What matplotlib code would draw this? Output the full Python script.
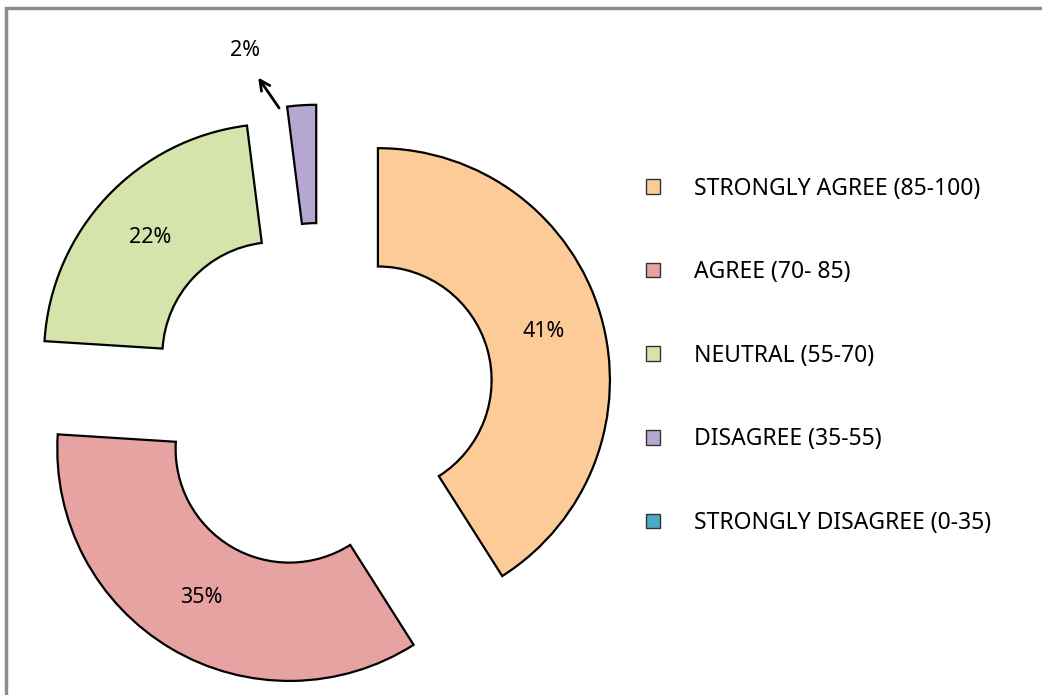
import numpy as np
import matplotlib.pyplot as plt
from matplotlib.patches import Patch, Rectangle

categories = ['STRONGLY AGREE (85-100)', 'AGREE (70- 85)', 'NEUTRAL (55-70)',
              'DISAGREE (35-55)', 'STRONGLY DISAGREE (0-35)']
shares = [41, 35, 22, 2, 0]
colors = ['#FDCB97', '#E6A3A2', '#D4E4AA', '#B6A6D2', '#4BACC6']

plt.rcParams['font.family'] = ['Noto Sans', 'DejaVu Sans']

W, H = 1042, 695
fig = plt.figure(figsize=(W / 100, H / 100), dpi=100)
ax = fig.add_axes([0, 0, 1, 1])

# pie centre and radius in pixels, used to set the view
cx, cy, rpx = 320, 397, 232


def fmt(p):
    return f'{p:.0f}%' if p >= 5 else ''


wedges, texts, autotexts = ax.pie(
    shares, explode=[0.26] * len(shares), colors=colors, startangle=90,
    counterclock=False, radius=1, pctdistance=0.745, autopct=fmt,
    wedgeprops=dict(width=0.51, edgecolor='black', linewidth=1.6),
    textprops=dict(fontsize=15.5, color='black'), frame=True)
ax.set_xlim(-cx / rpx, (W - cx) / rpx)
ax.set_ylim(-(H - cy) / rpx, cy / rpx)
ax.set_aspect('auto')
ax.axis('off')

# empty categories draw nothing
for w, s in zip(wedges, shares):
    if s == 0:
        w.set_visible(False)

# small slice gets an outside label with arrow
w = wedges[3]
mid = np.deg2rad((w.theta1 + w.theta2) / 2)
ox = w.center[0] + np.cos(mid)
oy = w.center[1] + np.sin(mid)
tail = (ox - 21 / rpx, oy - 5 / rpx)
head = (ox - 45 / rpx, oy + 30 / rpx)
ax.annotate('', xy=head, xytext=tail,
            arrowprops=dict(arrowstyle='->', lw=2, color='black', mutation_scale=18))
ax.text(head[0] - 12 / rpx, head[1] + 14 / rpx, f'{shares[3]}%', fontsize=15.5,
        ha='center', va='bottom')

handles = [Patch(facecolor=c, edgecolor='#333333', linewidth=1) for c in colors]
fig.legend(handles, categories, loc='center left', bbox_to_anchor=(0.6, 0.488),
           frameon=False, fontsize=16.5, labelspacing=2.6, handlelength=0.6,
           handleheight=0.6, handletextpad=1.5)

# outer border, partly cropped
fig.patches.append(Rectangle((6 / W, -0.05), 1.1, 1 - 8 / H + 0.05,
                             transform=fig.transFigure, fill=False,
                             edgecolor='#8c8c8c', linewidth=2.5))

fig.savefig('out.png', dpi=100)
